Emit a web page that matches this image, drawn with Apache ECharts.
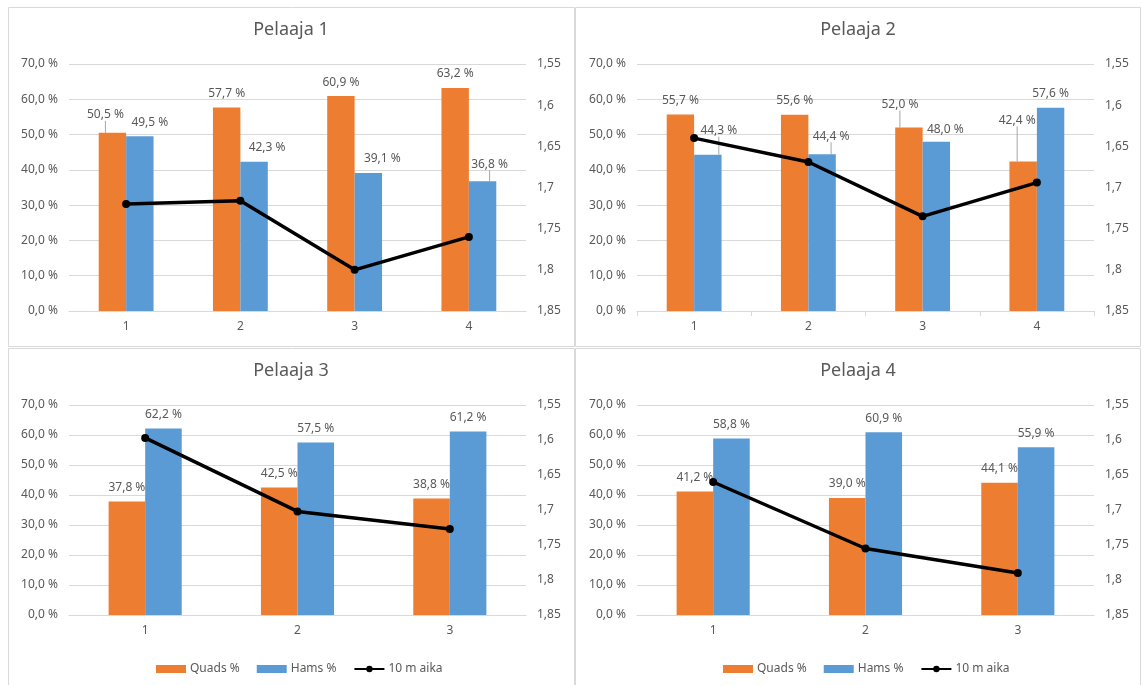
<!DOCTYPE html>
<html>
<head>
<meta charset="utf-8">
<script src="https://cdn.jsdelivr.net/npm/echarts@6/dist/echarts.min.js"></script>
<style>
html,body{margin:0;padding:0;background:#fff;}
#main{width:1143px;height:685px;}
</style>
</head>
<body>
<div id="main"></div>
<script>
// ---- data ----
const titles = ['Pelaaja 1', 'Pelaaja 2', 'Pelaaja 3', 'Pelaaja 4'];
const categories4 = ['1', '2', '3', '4'];
const categories3 = ['1', '2', '3'];
const seriesNames = ['Quads %', 'Hams %', '10 m aika'];

const p1Quads = [50.5, 57.7, 60.9, 63.2];
const p1Hams  = [49.5, 42.3, 39.1, 36.8];
const p1Time  = [1.72, 1.716, 1.80, 1.76];

const p2Quads = [55.7, 55.6, 52.0, 42.4];
const p2Hams  = [44.3, 44.4, 48.0, 57.6];
const p2Time  = [1.64, 1.669, 1.735, 1.694];

const p3Quads = [37.8, 42.5, 38.8];
const p3Hams  = [62.2, 57.5, 61.2];
const p3Time  = [1.597, 1.702, 1.727];

const p4Quads = [41.2, 39.0, 44.1];
const p4Hams  = [58.8, 60.9, 55.9];
const p4Time  = [1.66, 1.755, 1.79];

const leftMin = 0, leftMax = 70, leftStep = 10;
const rightMin = 1.55, rightMax = 1.85, rightStep = 0.05;

// ---- styling / layout (not data) ----
const ORANGE = '#ED7D31', BLUE = '#5B9BD5', TEXT = '#595959', GRID = '#D9D9D9';
const FONT = 'Noto Sans';

const panels = [
  {cats: categories4, q: p1Quads, h: p1Hams, t: p1Time, grid: {left: 69, top: 64, width: 457, height: 247}, cx: 291, ty: 21, ticks: false},
  {cats: categories4, q: p2Quads, h: p2Hams, t: p2Time, grid: {left: 637, top: 64, width: 457, height: 247}, cx: 858, ty: 21, ticks: true},
  {cats: categories3, q: p3Quads, h: p3Hams, t: p3Time, grid: {left: 69, top: 405, width: 457, height: 210}, cx: 291, ty: 362, ticks: false, legendLeft: 151},
  {cats: categories3, q: p4Quads, h: p4Hams, t: p4Time, grid: {left: 637, top: 405, width: 457, height: 210}, cx: 858, ty: 362, ticks: false, legendLeft: 718}
];

// label nudges [dx, dy, leaderLine] mimicking manual Excel label placement
const nudges = [
  {q: [[-7, -4, 1], [0, 0, 0], [0, 0, 0], [0, 0, 0]], h: [[10, 0, 0], [13, 0, 0], [14, 0, 0], [7, -3, 1]]},
  {q: [[0, 0, 0], [0, 0, 0], [-9, -9, 1], [-6, -27, 1]], h: [[11, -10, 1], [9, -4, 1], [9, 2, 0], [0, 0, 0]]},
  {q: [[0, 0, 0], [0, 0, 0], [0, 0, 0]], h: [[0, 0, 0], [0, 0, 0], [0, 0, 0]]},
  {q: [[0, 0, 0], [0, 0, 0], [0, 0, 0]], h: [[0, 0, 0], [0, 0, 0], [0, 0, 0]]}
];

const pctFmt = v => v.toFixed(1).replace('.', ',') + ' %';

const option = {
  animation: false,
  backgroundColor: '#fff',
  title: [], grid: [], xAxis: [], yAxis: [], series: [], legend: [],
  graphic: [
    {type: 'rect', shape: {x: 8.5, y: 7.5, width: 566, height: 339}, style: {fill: 'none', stroke: GRID, lineWidth: 1}, silent: true},
    {type: 'rect', shape: {x: 575.5, y: 7.5, width: 565, height: 339}, style: {fill: 'none', stroke: GRID, lineWidth: 1}, silent: true},
    {type: 'rect', shape: {x: 8.5, y: 348.5, width: 566, height: 345}, style: {fill: 'none', stroke: GRID, lineWidth: 1}, silent: true},
    {type: 'rect', shape: {x: 575.5, y: 348.5, width: 565, height: 345}, style: {fill: 'none', stroke: GRID, lineWidth: 1}, silent: true}
  ]
};

panels.forEach((p, i) => {
  option.title.push({
    text: titles[i], left: p.cx, top: p.ty, textAlign: 'center', padding: 0,
    textStyle: {fontFamily: FONT, fontSize: 18, fontWeight: 'normal', color: TEXT}
  });
  option.grid.push(Object.assign({containLabel: false}, p.grid));
  option.xAxis.push({
    type: 'category', gridIndex: i, data: p.cats,
    axisLine: {lineStyle: {color: GRID, width: 1}},
    axisTick: {show: p.ticks, length: 5, lineStyle: {color: GRID}},
    axisLabel: {fontFamily: FONT, fontSize: 12, color: TEXT, margin: 10}
  });
  option.yAxis.push({
    type: 'value', gridIndex: i, min: leftMin, max: leftMax, interval: leftStep,
    axisLine: {show: false}, axisTick: {show: false},
    splitLine: {lineStyle: {color: GRID, width: 1}},
    axisLabel: {fontFamily: FONT, fontSize: 12, color: TEXT, margin: 11, formatter: v => pctFmt(v)}
  });
  option.yAxis.push({
    type: 'value', gridIndex: i, position: 'right', inverse: true,
    min: rightMin, max: rightMax, interval: rightStep,
    axisLine: {show: false}, axisTick: {show: false}, splitLine: {show: false},
    axisLabel: {fontFamily: FONT, fontSize: 12, color: TEXT, margin: 11,
      formatter: v => String(parseFloat(v.toFixed(2))).replace('.', ',')}
  });
  const mkBar = (name, vals, color, nud) => ({
    name: name, type: 'bar', xAxisIndex: i, yAxisIndex: i * 2,
    barGap: '0%', barCategoryGap: '52%',
    itemStyle: {color: color},
    data: vals.map((v, k) => ({value: v, labelLine: {show: !!nud[k][2]}})),
    label: {show: true, position: 'top', distance: 8, fontFamily: FONT, fontSize: 12, color: TEXT,
      formatter: prm => pctFmt(prm.value)},
    labelLine: {show: false, lineStyle: {color: '#A6A6A6', width: 1}},
    labelLayout: prm => ({dx: nud[prm.dataIndex][0], dy: nud[prm.dataIndex][1]}),
    z: 2
  });
  option.series.push(mkBar(seriesNames[0], p.q, ORANGE, nudges[i].q));
  option.series.push(mkBar(seriesNames[1], p.h, BLUE, nudges[i].h));
  option.series.push({
    name: seriesNames[2], type: 'line', xAxisIndex: i, yAxisIndex: i * 2 + 1,
    data: p.t, symbol: 'circle', symbolSize: 8,
    lineStyle: {color: '#000', width: 3.5}, itemStyle: {color: '#000'}, z: 5
  });
  if (p.legendLeft !== undefined) {
    option.legend.push({
      left: p.legendLeft, top: 658, itemWidth: 30, itemHeight: 8, itemGap: 17,
      textStyle: {fontFamily: FONT, fontSize: 12, color: TEXT, padding: [0, 0, 0, -1]},
      data: [{name: seriesNames[0], icon: 'rect'}, {name: seriesNames[1], icon: 'rect'}, {name: seriesNames[2]}]
    });
  }
});

const chart = echarts.init(document.getElementById('main'), null, {renderer: 'canvas'});
chart.setOption(option);
</script>
</body>
</html>
